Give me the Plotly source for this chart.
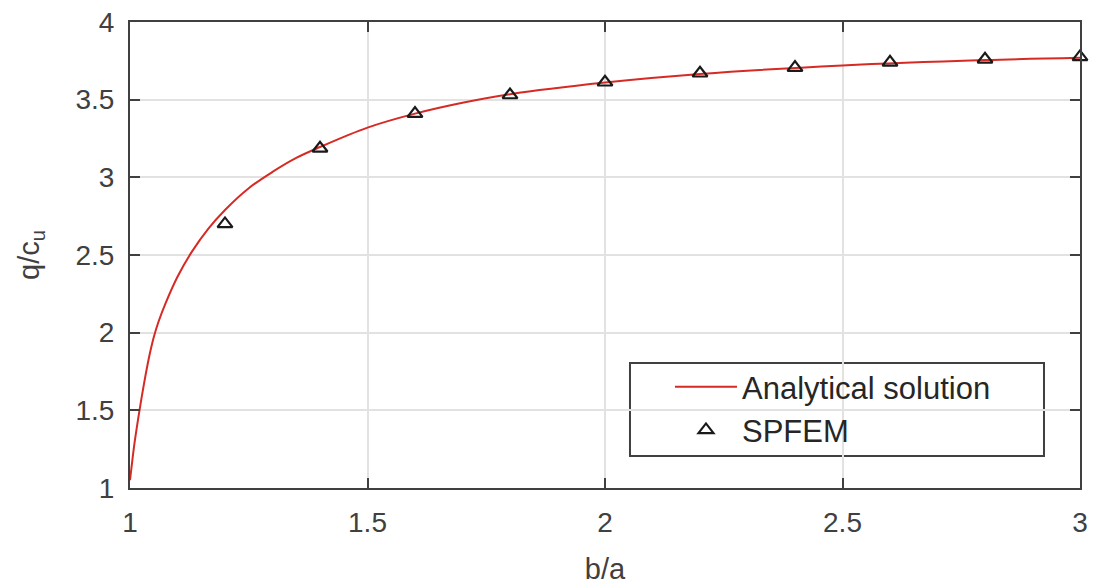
import plotly.graph_objects as go

# Analytical solution
curve_x = [1.0, 1.005, 1.01, 1.02, 1.03, 1.04, 1.05, 1.06, 1.075, 1.1, 1.13, 1.165, 1.2,
           1.25, 1.3, 1.35, 1.4, 1.5, 1.6, 1.7, 1.8, 2.0, 2.2, 2.5, 2.8, 3.0]
curve_y = [1.05, 1.18, 1.30, 1.50, 1.68, 1.84, 1.97, 2.07, 2.19, 2.36, 2.52, 2.67, 2.79,
           2.93, 3.035, 3.125, 3.195, 3.32, 3.41, 3.48, 3.535, 3.61, 3.665, 3.72, 3.755, 3.77]

# SPFEM results
spfem_x = [1.2, 1.4, 1.6, 1.8, 2.0, 2.2, 2.4, 2.6, 2.8, 3.0]
spfem_y = [2.70, 3.187, 3.41, 3.53, 3.612, 3.67, 3.706, 3.74, 3.76, 3.775]

x_ticks = [1, 1.5, 2, 2.5, 3]
y_ticks = [1, 1.5, 2, 2.5, 3, 3.5, 4]

font_family = "Liberation Sans, Arial, sans-serif"
axis_color = "#404040"

fig = go.Figure()
fig.add_trace(go.Scatter(
    x=curve_x, y=curve_y, mode="lines", name="Analytical solution",
    line=dict(color="#d62a24", width=2, shape="spline", smoothing=1.0),
))
fig.add_trace(go.Scatter(
    x=spfem_x, y=spfem_y, mode="markers", name="SPFEM",
    marker=dict(symbol="triangle-up-open", size=13, color="#1a1a1a",
                line=dict(width=2.2, color="#1a1a1a")),
    cliponaxis=False,
))

axis_common = dict(
    showline=True, linecolor=axis_color, linewidth=2, mirror="ticks",
    ticks="inside", ticklen=10, tickwidth=2, tickcolor=axis_color,
    showgrid=True, gridcolor="#e2e2e2", gridwidth=2,
    zeroline=False, automargin=False,
    tickfont=dict(family=font_family, size=28, color="#404040"),
)

# legend box (white, framed)
fig.add_shape(type="rect", xref="paper", yref="paper",
              x0=0.5263, x1=0.9621, y0=0.0687, y1=0.2682,
              fillcolor="white", line=dict(color=axis_color, width=2), layer="between")

fig.update_layout(
    width=1093, height=585, autosize=False,
    margin=dict(l=130, r=13, t=22, b=97, pad=0),
    paper_bgcolor="white", plot_bgcolor="white",
    font=dict(family=font_family, color="#404040"),
    showlegend=True,
    legend=dict(
        x=0.5684, y=0.2747, xanchor="left", yanchor="top",
        bgcolor="rgba(0,0,0,0)", borderwidth=0,
        font=dict(family=font_family, size=31, color="#262626"),
        itemwidth=62, tracegroupgap=0,
    ),
    xaxis=dict(
        range=[1, 3], tickvals=x_ticks, ticktext=[f"{v:g}" for v in x_ticks],
        title=dict(text="b/a", font=dict(family=font_family, size=29, color="#404040"), standoff=23),
        ticklabelstandoff=8,
        **axis_common,
    ),
    yaxis=dict(
        range=[1, 4], tickvals=y_ticks, ticktext=[f"{v:g}" for v in y_ticks],
        title=dict(text="q/c<sub>u</sub>", font=dict(family=font_family, size=29, color="#404040"), standoff=27),
        ticklabelstandoff=8,
        **axis_common,
    ),
)

fig.write_html("out.html")
